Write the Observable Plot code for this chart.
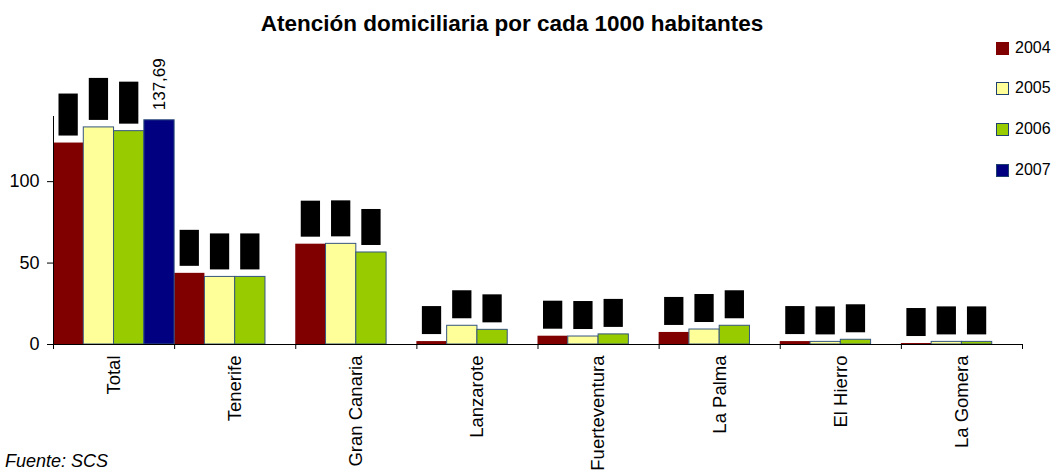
<!DOCTYPE html>
<html>
<head>
<meta charset="utf-8">
<script src="https://cdn.jsdelivr.net/npm/d3@7"></script>
<script src="https://cdn.jsdelivr.net/npm/@observablehq/plot@0.6"></script>
<style>
  body { margin: 0; background: #fff; font-family: "Liberation Sans", Arial, sans-serif; }
  #wrap { position: relative; width: 1051px; height: 470px; overflow: hidden; }
  #chart { position: absolute; left: 0; top: 0; }
  #title { position: absolute; left: 0; width: 1024px; top: 10px; text-align: center; font-weight: bold; font-size: 22.5px; line-height: 28px; color: #000; }
  #source { position: absolute; left: 5px; top: 451px; font-style: italic; font-size: 18px; color: #000; }
  .lg { position: absolute; left: 996px; height: 20px; display: flex; align-items: center; font-size: 16px; color: #000; }
  .lg span.sw { display: inline-block; width: 13px; height: 13px; margin-right: 6px; box-sizing: border-box; }
</style>
</head>
<body>
<div id="wrap">
  <div id="chart"></div>
  <div id="title">Atención domiciliaria por cada 1000 habitantes</div>
  <div id="source">Fuente: SCS</div>
  <div id="legend"></div>
</div>
<script>
const categories = ["Total", "Tenerife", "Gran Canaria", "Lanzarote", "Fuerteventura", "La Palma", "El Hierro", "La Gomera"];
const years = ["2004", "2005", "2006", "2007"];
const v2004 = [123.7, 43.7, 61.6, 1.8, 5.1, 7.4, 1.8, 0.6];
const v2005 = [133.3, 41.5, 61.8, 11.5, 4.9, 9.2, 1.6, 1.6];
const v2006 = [131.0, 41.5, 56.5, 9.0, 6.2, 11.5, 2.9, 1.6];
const v2007 = [137.69, null, null, null, null, null, null, null];
const colors = ["#800000", "#FFFF99", "#99CC00", "#000080"];
const yTicks = [0, 50, 100];

const series = [v2004, v2005, v2006, v2007];
const data = [];
categories.forEach((c, ci) => {
  series.forEach((s, yi) => {
    if (s[ci] != null) data.push({cat: c, ci, yi, year: years[yi], value: s[ci]});
  });
});
const fmt = v => v.toFixed(2).replace(".", ",");

const W = 1051, H = 470, mt = 116, mb = 126, ml = 53, mr = 29;
const yMax = 140;
const k = (H - mt - mb) / yMax; // px per unit, used for label box offsets
const boxed = data.filter(d => d.yi < 3).map(d => {
  const L = d.value >= 100 ? 42 : d.value >= 20 ? 36 : 28;
  return {...d, b1: d.value + 7 / k, b2: d.value + (7 + L) / k};
});
const open = data.filter(d => d.yi === 3);

const chart = Plot.plot({
  width: W, height: H,
  marginTop: mt, marginBottom: mb, marginLeft: ml, marginRight: mr,
  style: {fontFamily: "'Liberation Sans', Arial, sans-serif", background: "transparent", color: "#000"},
  x: {domain: [0, categories.length], axis: null},
  y: {domain: [0, yMax], axis: null},
  color: {domain: years, range: colors},
  marks: [
    Plot.rectY(data.filter(d => d.yi === 0), {x1: d => d.ci + d.yi / 4, x2: d => d.ci + (d.yi + 1) / 4, y: "value", fill: "year"}),
    Plot.rectY(data.filter(d => d.yi > 0), {x1: d => d.ci + d.yi / 4, x2: d => d.ci + (d.yi + 1) / 4, y: "value", fill: "year", stroke: "#35557f", strokeWidth: 1}),
    Plot.rect(boxed, {x1: d => d.ci + d.yi / 4, x2: d => d.ci + (d.yi + 1) / 4, y1: "b1", y2: "b2", fill: "black", insetLeft: 5.5, insetRight: 5.5}),
    Plot.text(open, {x: d => d.ci + (d.yi + 0.5) / 4, y: "value", text: d => fmt(d.value), rotate: -90, textAnchor: "start", dy: -10, fontSize: 17, fill: "#000"}),
    Plot.ruleY([0], {stroke: "#000"}),
    Plot.ruleX([0], {stroke: "#000"}),
    Plot.axisY({ticks: yTicks, tickSize: 6, tickPadding: 8, fontSize: 18, stroke: "#000"}),
    Plot.axisX({ticks: d3.range(categories.length + 1), tickSize: 5, tickFormat: () => "", stroke: "#000"}),
    Plot.text(categories, {x: (d, i) => i + 0.5, y: () => 0, text: d => d, rotate: -90, textAnchor: "end", dy: 11, fontSize: 18.5, fill: "#000"})
  ]
});
document.getElementById("chart").appendChild(chart);

const legendY = [48, 88, 129, 170];
const lg = document.getElementById("legend");
years.forEach((y, i) => {
  const div = document.createElement("div");
  div.className = "lg";
  div.style.top = (legendY[i] - 10) + "px";
  const sw = document.createElement("span");
  sw.className = "sw";
  sw.style.background = colors[i];
  if (i > 0) sw.style.border = "1px solid #1f3f6f";
  div.appendChild(sw);
  div.appendChild(document.createTextNode(y));
  lg.appendChild(div);
});
</script>
</body>
</html>
